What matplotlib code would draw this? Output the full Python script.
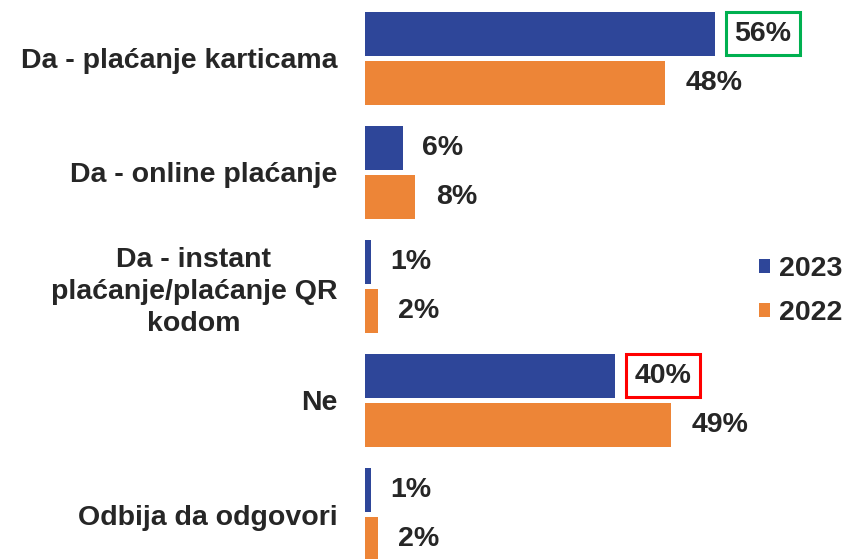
import numpy as np
import matplotlib.pyplot as plt

plt.rcParams['font.family'] = ['Liberation Sans', 'DejaVu Sans']

categories = ["Da - plaćanje karticama", "Da - online plaćanje",
              "Da - instant\nplaćanje/plaćanje QR\nkodom", "Ne", "Odbija da odgovori"]
v2023 = [56, 6, 1, 40, 1]
v2022 = [48, 8, 2, 49, 2]
highlight = {0: "#00B050", 3: "#FF0000"}  # boxed 2023 labels

c2023 = "#2E4699"
c2022 = "#ED8537"
txt = "#262626"
fs = 20.5

fig = plt.figure(figsize=(8.46, 5.59), dpi=100)
ax = fig.add_axes([365 / 846, 0, 1 - 365 / 846, 1])

y = np.arange(len(categories))
h = 0.386
off = 0.215
ax.barh(y - off, v2023, height=h, color=c2023, label="2023")
ax.barh(y + off, v2022, height=h, color=c2022, label="2022")

ax.set_xlim(0, (846 - 365) / 6.25)
ax.set_ylim(4.39, -0.51)

for i in range(len(categories)):
    box = None
    if i in highlight:
        box = dict(boxstyle="square,pad=0.3", fc="none", ec=highlight[i], lw=2.2)
    ax.annotate(f"{v2023[i]}%", (v2023[i], y[i] - off), xytext=(14, 0),
                textcoords="offset points", va="center", ha="left",
                fontsize=fs, fontweight="bold", color=txt, bbox=box)
    ax.annotate(f"{v2022[i]}%", (v2022[i], y[i] + off), xytext=(15, 0),
                textcoords="offset points", va="center", ha="left",
                fontsize=fs, fontweight="bold", color=txt)

ax.set_yticks(y)
ax.set_yticklabels(categories, fontsize=fs, fontweight="bold", color=txt,
                   multialignment="center", linespacing=1.3)
ax.tick_params(axis="y", length=0, pad=20)
ax.set_xticks([])
for s in ax.spines.values():
    s.set_visible(False)

fig.legend(loc="center left", bbox_to_anchor=(759 / 846, 1 - 291 / 559),
           frameon=False, borderpad=0, borderaxespad=0,
           handlelength=0.38, handleheight=0.38, handletextpad=0.32,
           labelspacing=0.65, prop=dict(size=fs, weight="bold"), labelcolor=txt)

fig.savefig("out.png", dpi=100)
